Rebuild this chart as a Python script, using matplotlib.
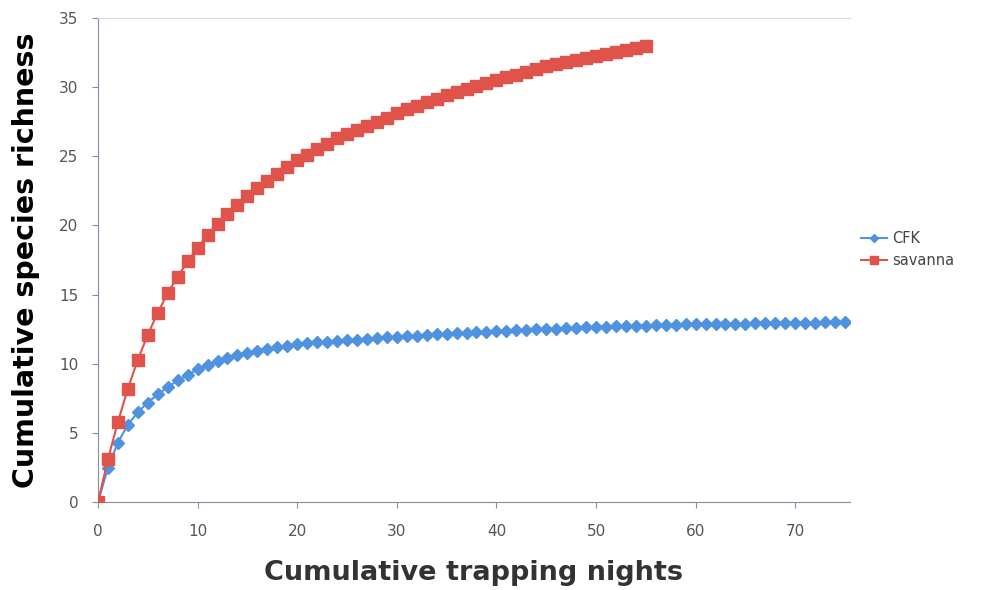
import matplotlib
matplotlib.use("Agg")
import matplotlib.pyplot as plt

# cumulative species richness per trapping night
nights_cfk = list(range(0, 76))
cfk = [0.0, 2.5, 4.3, 5.6, 6.5, 7.2, 7.8, 8.3, 8.8, 9.2,
       9.6, 9.9, 10.2, 10.4, 10.6, 10.8, 10.95, 11.1, 11.2, 11.3,
       11.4, 11.48, 11.55, 11.6, 11.65, 11.7, 11.75, 11.8, 11.85, 11.9,
       11.95, 12.0, 12.04, 12.08, 12.12, 12.16, 12.2, 12.24, 12.28, 12.32,
       12.36, 12.39, 12.42, 12.45, 12.48, 12.51, 12.54, 12.57, 12.6, 12.63,
       12.66, 12.68, 12.7, 12.72, 12.74, 12.76, 12.78, 12.8, 12.82, 12.84,
       12.86, 12.87, 12.88, 12.89, 12.9, 12.91, 12.92, 12.93, 12.94, 12.95,
       12.96, 12.97, 12.98, 12.99, 13.0, 13.01]

nights_sav = list(range(0, 56))
savanna = [0.0, 3.1, 5.8, 8.2, 10.3, 12.1, 13.7, 15.1, 16.3, 17.4,
           18.4, 19.3, 20.1, 20.8, 21.5, 22.1, 22.7, 23.2, 23.7, 24.2,
           24.7, 25.1, 25.5, 25.9, 26.3, 26.6, 26.9, 27.2, 27.5, 27.8,
           28.1, 28.4, 28.65, 28.9, 29.15, 29.4, 29.65, 29.9, 30.1, 30.3,
           30.5, 30.7, 30.9, 31.1, 31.3, 31.5, 31.65, 31.8, 31.95, 32.1,
           32.25, 32.4, 32.55, 32.7, 32.85, 33.0]

blue = "#4f93e0"
red = "#e0534a"

fig = plt.figure(figsize=(10, 5.9), dpi=100)
ax = fig.add_axes([0.098, 0.149, 0.752, 0.8205])

l1, = ax.plot(nights_cfk, cfk, color=blue, lw=1.5, marker="D", ms=6.5,
              mec=blue, mfc=blue, label="CFK", zorder=3)
l2, = ax.plot(nights_sav, savanna, color=red, lw=1.5, marker="s", ms=8.5,
              mec=red, mfc=red, label="savanna", zorder=4)

ax.set_xlim(0, 75.5)
ax.set_ylim(0, 35)
ax.set_xticks(range(0, 71, 10))
ax.set_yticks(range(0, 36, 5))

for s in ["left", "bottom"]:
    ax.spines[s].set_color("#8a8aa0")
ax.spines["top"].set_color("#d8d8e4")
ax.spines["right"].set_visible(False)
ax.tick_params(colors="#8a8aa0", labelcolor="#555555", labelsize=11,
               length=4, direction="out")
ax.tick_params(axis="x", pad=12)
ax.tick_params(axis="y", pad=10)

ax.set_xlabel("Cumulative trapping nights", fontsize=19.5, fontweight="heavy",
              color="#333333", labelpad=15)
ax.set_ylabel("Cumulative species richness", fontsize=20.5, fontweight="heavy",
              color="black", labelpad=14)

fig.legend(handles=[l1, l2], loc="center left", bbox_to_anchor=(0.848, 0.577),
           frameon=False, fontsize=10.5, labelcolor="#444444",
           handlelength=1.8, handletextpad=0.3, labelspacing=0.45,
           markerscale=0.7)

fig.savefig("out.png", dpi=100)
